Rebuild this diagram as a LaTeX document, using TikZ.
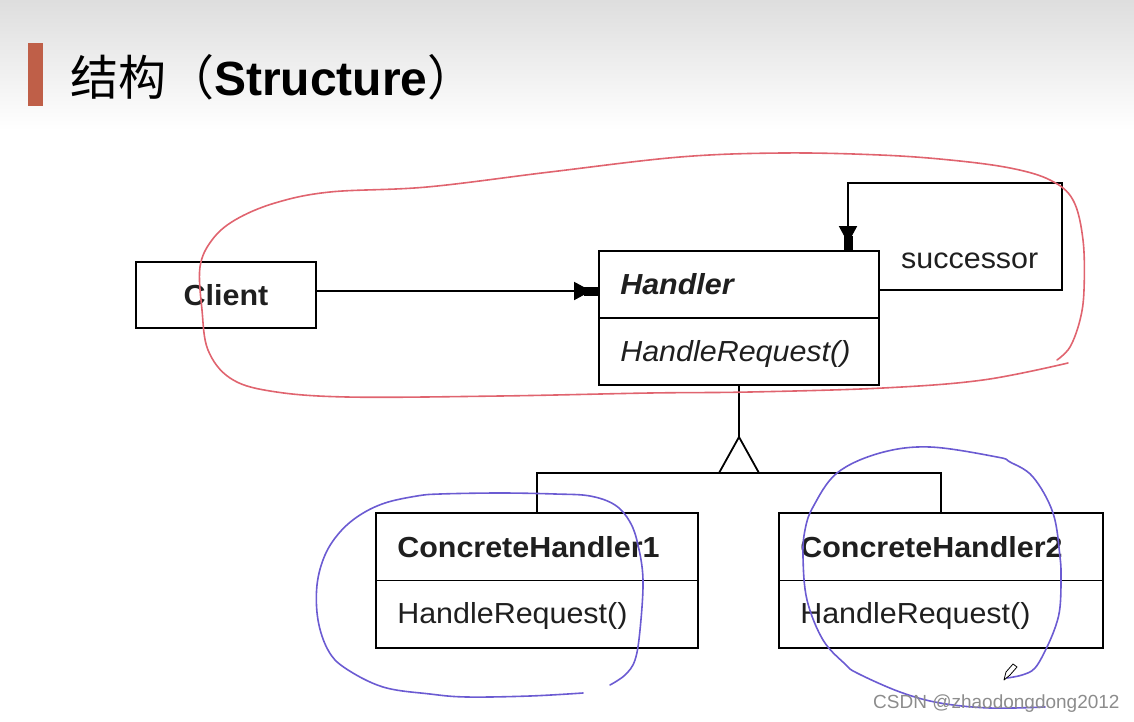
\documentclass[tikz,border=0pt]{standalone}
\usepackage{fontspec}
\setmainfont{Liberation Sans}
\newfontfamily\umlfont[FakeStretch=1.05]{Liberation Sans}
\newfontfamily\cjkfont{Noto Sans CJK SC}
\usepackage{tikz}
\usetikzlibrary{arrows.meta,calc,positioning}
\definecolor{titlebar}{HTML}{BF5F48}
\definecolor{inkred}{HTML}{E0646F}
\definecolor{inkblue}{HTML}{6B5BD2}
\tikzset{
   uml/.style={line width=1.8pt},
   classbox/.style={draw, uml, inner sep=0pt},
   classtext/.style={inner sep=0pt, anchor=base west, text=black!88,
                     font=\umlfont\fontsize{29}{34}\selectfont},
   assoc/.style={uml, -{Triangle[width=18pt,length=17pt,sep=-7pt]Rectangle[width=9pt,length=14pt]}},
   scribble/.style={line width=1.6pt, line cap=round, line join=round}
}

\begin{document}
\begin{tikzpicture}[x=1pt,y=-1pt]
\useasboundingbox (0,0) rectangle (1134,722);
% slide header
\shade[top color=black!13, bottom color=white] (0,0) rectangle (1134,130);
\fill[titlebar] (28,43) rectangle (43,106);
\node[inner sep=0pt, anchor=base west] (title) at (70,96)
   {\fontsize{48}{56}\selectfont{\cjkfont 结构（}\textbf{Structure}{\cjkfont ）}};

% classes
\node[classbox, minimum width=180pt, minimum height=66pt] (client) at (226,295) {};
\node[classtext, anchor=base] (clientname) at (226,305.5) {\bfseries Client};

\node[classbox, minimum width=280pt, minimum height=134pt] (handler) at (739,318) {};
\draw[uml] (handler.west) -- (handler.east);
\node[classtext] (handlername) at ($(handler.north west)+(22,44.5)$) {\bfseries\itshape Handler};
\node[classtext] (handlerop) at ($(handler.north west)+(22,111.5)$) {\itshape HandleRequest()};

\node[classbox, minimum width=322pt, minimum height=135pt] (ch1) at (537,580.5) {};
\draw[uml] (ch1.west) -- (ch1.east);
\node[classtext] (ch1name) at ($(ch1.north west)+(22,45)$) {\bfseries ConcreteHandler1};
\node[classtext] (ch1op) at ($(ch1.north west)+(22,111)$) {HandleRequest()};

\node[classbox, minimum width=324pt, minimum height=135pt] (ch2) at (941,580.5) {};
\draw[uml] (ch2.west) -- (ch2.east);
\node[classtext] (ch2name) at ($(ch2.north west)+(22,45)$) {\bfseries ConcreteHandler2};
\node[classtext] (ch2op) at ($(ch2.north west)+(22,111)$) {HandleRequest()};

% client -> handler
\draw[assoc] ([yshift=4pt]client.east) -- ([yshift=4pt]client.east -| handler.west);

% successor self reference
\coordinate (loop) at (1062,183);
\draw[assoc] ([yshift=28pt]handler.east) -| (loop) -| ([xshift=109pt]handler.north);
\node[classtext] (succ) at (901,268) {successor};

% inheritance
\coordinate (apex) at (739,437);
\coordinate (fork) at (739,473);
\draw[uml] (handler.south) -- (apex);
\draw[uml] (apex) -- ([xshift=-20pt]fork) -- ([xshift=20pt]fork) -- cycle;
\draw[uml] (ch1.north) |- (fork) -| (ch2.north);

% hand drawn marks
\draw[scribble, inkred] plot[smooth, tension=0.6] coordinates {
  (1068,363) (983,380) (883,388) (750,392) (650,393) (500,396) (347,397)
  (270,391) (230,378) (208,350) (202,310) (200,267) (212,240) (235,220)
  (275,203) (330,192) (427,187) (550,172) (680,157) (783,153) (880,155)
  (950,160) (1010,168) (1050,180) (1073,200) (1083,240) (1084,290)
  (1080,320) (1070,347) (1057,360)};
\draw[scribble, inkblue] plot[smooth, tension=0.6] coordinates {
  (610,685) (625,675) (635,660) (640,630) (643,580) (638,545) (630,522)
  (615,505) (590,496) (555,494) (500,493) (440,494) (417,496) (385,503)
  (360,515) (340,532) (325,555) (317,585) (318,620) (328,650) (345,668)
  (383,687) (430,694) (467,697) (530,696) (583,693)};
\draw[scribble, inkblue] plot[smooth, tension=0.6] coordinates {
  (1007,678) (1022,675) (1035,668) (1047,647) (1056,625) (1060,607)
  (1061,580) (1060,557) (1053,513) (1033,477) (1010,462) (997,457)
  (930,447) (880,453) (837,473) (813,507) (805,530) (803,557) (807,600)
  (823,640) (845,664) (857,673) (900,692) (940,703) (990,708) (1045,707)};
\draw[line width=0.8pt, line join=round] (1004,680) -- (1006,672) -- (1013,664)
  -- (1017,667) -- (1010,675) -- cycle;

% watermark
\node[inner sep=0pt, anchor=base west, text=black!45, font=\fontsize{19}{22}\selectfont]
  (mark) at (873,708) {CSDN @zhaodongdong2012};
\end{tikzpicture}
\end{document}
